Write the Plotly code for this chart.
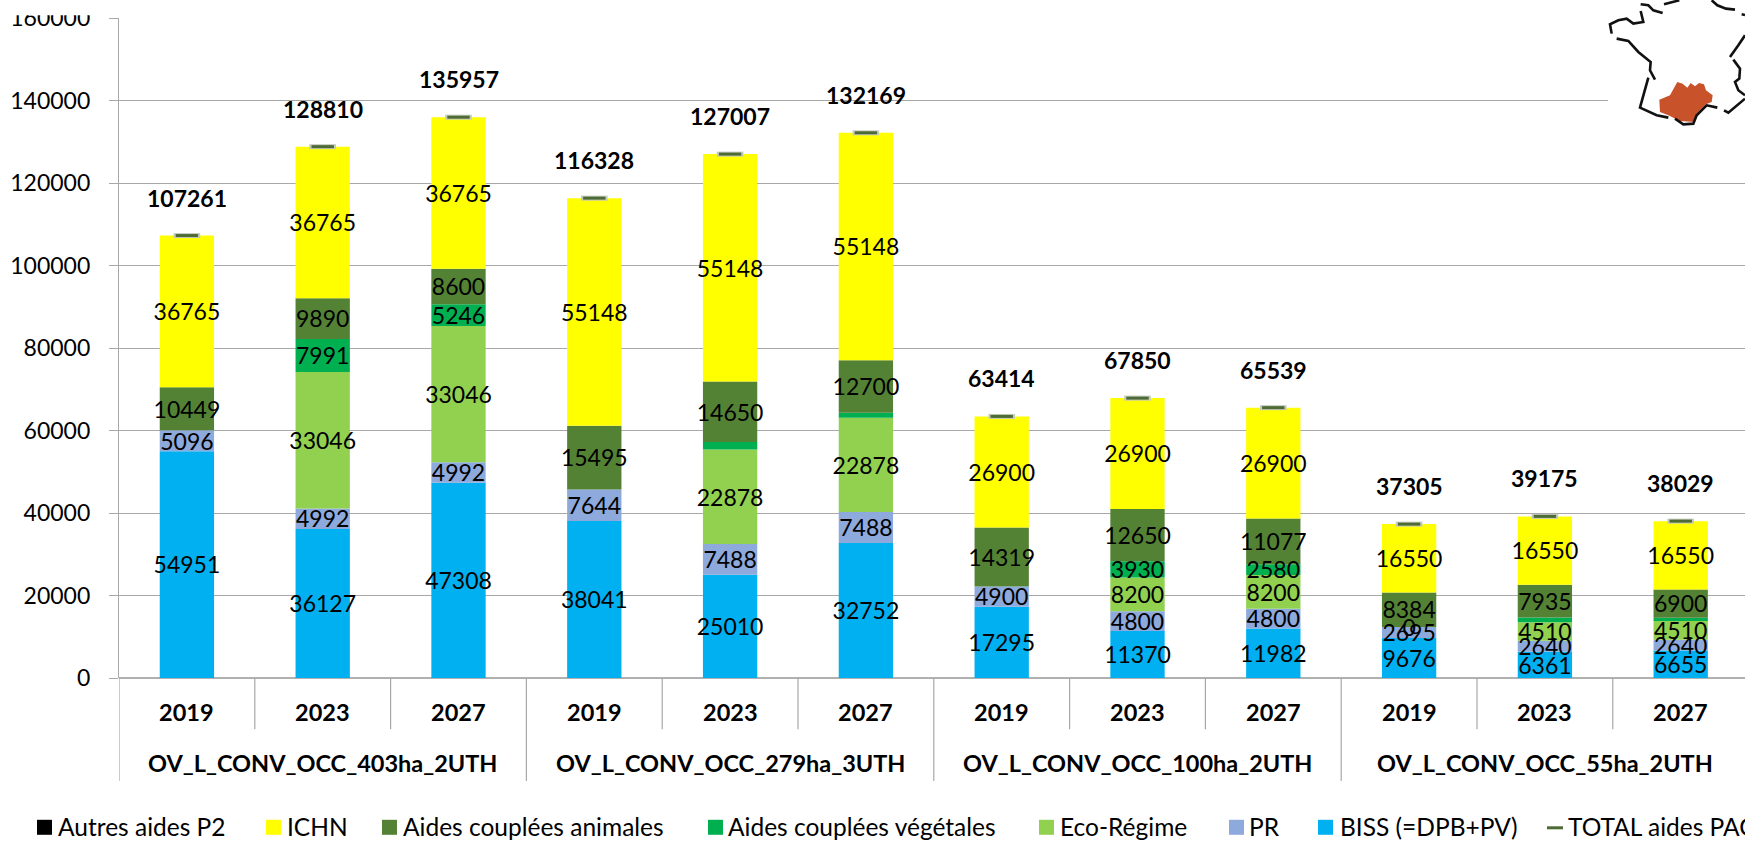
import plotly.graph_objects as go

W, H = 1745, 842
L, T, B = 119.0, 17.7, 842 - 677.7
CAT_W = 135.8

years = ["2019", "2023", "2027"] * 4
groups = ["OV_L_CONV_OCC_403ha_2UTH", "OV_L_CONV_OCC_279ha_3UTH",
          "OV_L_CONV_OCC_100ha_2UTH", "OV_L_CONV_OCC_55ha_2UTH"]
biss = [54951, 36127, 47308, 38041, 25010, 32752, 17295, 11370, 11982, 9676, 6361, 6655]
pr = [5096, 4992, 4992, 7644, 7488, 7488, 4900, 4800, 4800, 2695, 2640, 2640]
eco = [0, 33046, 33046, 0, 22878, 22878, 0, 8200, 8200, 0, 4510, 4510]
veg = [0, 7991, 5246, 0, 1833, 1203, 0, 3930, 2580, 0, 1179, 774]
anim = [10449, 9890, 8600, 15495, 14650, 12700, 14319, 12650, 11077, 8384, 7935, 6900]
ichn = [36765, 36765, 36765, 55148, 55148, 55148, 26900, 26900, 26900, 16550, 16550, 16550]
autres = [0] * 12
total = [107261, 128810, 135957, 116328, 127007, 132169, 63414, 67850, 65539, 37305, 39175, 38029]

series = [
    ("BISS (=DPB+PV)", biss, "#00B0F0"),
    ("PR", pr, "#8EA9DB"),
    ("Eco-Régime", eco, "#92D050"),
    ("Aides couplées végétales", veg, "#00B050"),
    ("Aides couplées animales", anim, "#548235"),
    ("ICHN", ichn, "#FFFF00"),
    ("Autres aides P2", autres, "#000000"),
]
# labels the chart leaves out or adds for small / zero segments
hidden = {"Aides couplées végétales": {4, 5, 10, 11}}
shown_zero = {"Eco-Régime": {9}}

FONT = "Lato"
TXT = "#000000"
GRID = "#a8a8a8"
xs = list(range(12))
# the picture's labels sit about 3 px below the centre of their segment
LABEL_DROP = 3 / 82.2 * 20000

fig = go.Figure()
base = [0] * 12
for name, vals, color in series:
    fig.add_bar(x=xs, y=vals, base=base, name=name, marker=dict(color=color, line=dict(width=0)),
                width=0.40, showlegend=False, hoverinfo="name+y")
    mids, labels = [], []
    for i, v in enumerate(vals):
        mids.append(base[i] + v / 2 - LABEL_DROP)
        show = (v > 0 and i not in hidden.get(name, ())) or i in shown_zero.get(name, ())
        labels.append(str(v) if show else "")
    fig.add_scatter(x=xs, y=mids, mode="text", text=labels, textposition="middle center",
                    textfont=dict(family=FONT, size=23, color=TXT), showlegend=False,
                    hoverinfo="skip", cliponaxis=False)
    base = [b + v for b, v in zip(base, vals)]

fig.add_scatter(x=xs, y=total, mode="markers", showlegend=False, hoverinfo="skip",
                marker=dict(symbol="line-ew", size=19, line=dict(width=5, color="#c4cabd")))
fig.add_scatter(x=xs, y=total, mode="markers", name="TOTAL aides PAC", showlegend=False,
                marker=dict(symbol="line-ew", size=16, line=dict(width=3, color="#4F6B35")))

for i, t in enumerate(total):
    fig.add_annotation(x=i, y=t, yshift=38, text=f"<b>{t}</b>", showarrow=False,
                       font=dict(family=FONT, size=23, color=TXT), yanchor="middle")


def px(x):
    return (x - L) / (W - L)


def py(y):
    return (H - B - y) / (H - B - T)


# x-axis hierarchy
shapes = []
annos = []
for i, y in enumerate(years):
    annos.append(dict(x=i, y=py(711.5), yref="paper", xref="x", text=f"<b>{y}</b>", showarrow=False,
                      font=dict(family=FONT, size=23.5, color=TXT), yanchor="middle"))
for g, name in enumerate(groups):
    annos.append(dict(x=3 * g + 1, y=py(763), yref="paper", xref="x", text=f"<b>{name}</b>", showarrow=False,
                      font=dict(family=FONT, size=23.5, color=TXT), yanchor="middle"))
for i in range(12):
    end = 780.7 if i % 3 == 0 else 729
    shapes.append(dict(type="line", xref="x", yref="paper", x0=i - 0.5, x1=i - 0.5, y0=0, y1=py(end),
                       line=dict(color=GRID, width=1.2)))

# white backing of the inset map, then the map itself
shapes.append(dict(type="rect", xref="paper", yref="paper", x0=px(1608), x1=1, y0=py(130), y1=py(10),
                   fillcolor="white", line=dict(width=0), layer="above"))
# top crop of the picture
shapes.append(dict(type="rect", xref="paper", yref="paper", x0=px(0), x1=1, y0=py(15), y1=py(0),
                   fillcolor="white", line=dict(width=0), layer="above"))


def path(points, close=False):
    s = "M " + " L ".join(f"{px(a):.5f} {py(b):.5f}" for a, b in points)
    return s + (" Z" if close else "")


def z(points):
    return [(1600 + a / 3, b / 3) for a, b in points]


strokes = [
    [(122, 12), (145, 15), (160, 30), (188, 38)],
    [(192, 12), (238, 0)],
    [(335, 0), (352, 15), (378, 25), (405, 28)],
    [(425, 42), (435, 44)],
    [(122, 32), (130, 65), (100, 70), (80, 55), (55, 60), (30, 72), (35, 100)],
    [(50, 115), (85, 122), (115, 155), (152, 185), (150, 210), (165, 238)],
    [(145, 232), (120, 322), (170, 345), (205, 352)],
    [(225, 355), (250, 372), (280, 370), (290, 345), (320, 315), (352, 322)],
    [(372, 330), (385, 337), (435, 295)],
    [(400, 178), (420, 205), (418, 235), (405, 245), (415, 270), (435, 285)],
    [(390, 170), (415, 135), (435, 105)],
]
region = [(178, 298), (210, 285), (232, 245), (248, 250), (262, 262), (272, 248), (285, 258), (297, 248),
          (312, 252), (318, 270), (338, 285), (335, 305), (318, 312), (290, 340), (282, 365), (240, 362),
          (205, 345), (180, 335)]
shapes.append(dict(type="path", xref="paper", yref="paper", path=path(z(region), True), fillcolor="#C8532A",
                   line=dict(width=0), layer="above"))
for s in strokes:
    shapes.append(dict(type="path", xref="paper", yref="paper", path=path(z(s)), line=dict(color="#111111", width=2.6),
                       layer="above"))

# legend row, placed as in the picture
legend_rows = [
    ("Autres aides P2", "#000000", 37, 55.5),
    ("ICHN", "#FFFF00", 266, 284.5),
    ("Aides couplées animales", "#548235", 382, 400.5),
    ("Aides couplées végétales", "#00B050", 708, 726),
    ("Eco-Régime", "#92D050", 1039, 1058),
    ("PR", "#8EA9DB", 1229, 1247),
    ("BISS (=DPB+PV)", "#00B0F0", 1318, 1338),
]
LEG_Y = 826.5
LEG_SIZE = 24.5
for name, color, x0, tx in legend_rows:
    shapes.append(dict(type="rect", xref="paper", yref="paper", x0=px(x0), x1=px(x0 + 15), y0=py(LEG_Y - 7),
                       y1=py(LEG_Y + 8), fillcolor=color, line=dict(width=0)))
    annos.append(dict(x=px(tx), y=py(LEG_Y), xref="paper", yref="paper", text=name, showarrow=False, xanchor="left",
                      yanchor="middle", font=dict(family=FONT, size=LEG_SIZE, color=TXT)))
shapes.append(dict(type="line", xref="paper", yref="paper", x0=px(1547), x1=px(1563), y0=py(LEG_Y + 1), y1=py(LEG_Y + 1),
                   line=dict(color="#4F6B35", width=3)))
annos.append(dict(x=px(1566), y=py(LEG_Y), xref="paper", yref="paper", text="TOTAL aides PAC", showarrow=False,
                  xanchor="left", yanchor="middle", font=dict(family=FONT, size=LEG_SIZE, color=TXT)))

fig.update_layout(
    width=W, height=H, autosize=False, barmode="overlay", plot_bgcolor="white", paper_bgcolor="white",
    margin=dict(l=L, r=0, t=T, b=B, pad=0), showlegend=False, shapes=shapes, annotations=list(fig.layout.annotations) + annos,
    xaxis=dict(range=[-0.5, -0.5 + (W - L) / CAT_W], showgrid=False, showticklabels=False, ticks="", zeroline=False,
               showline=False),
    yaxis=dict(range=[0, 160000], tickvals=list(range(0, 160001, 20000)), ticks="outside", ticklen=9, tickcolor=GRID,
               tickwidth=1.2, gridcolor=GRID, gridwidth=1.2, zeroline=True, zerolinecolor="#b0b0b0", zerolinewidth=2,
               showline=True, linecolor=GRID, linewidth=1.2, tickformat="d", ticklabelstandoff=14,
               tickfont=dict(family=FONT, size=23, color=TXT), layer="below traces"),
)
fig.write_html("out.html", config={"displayModeBar": False},
               post_script="document.body.style.margin='0';document.body.style.overflow='hidden';")
